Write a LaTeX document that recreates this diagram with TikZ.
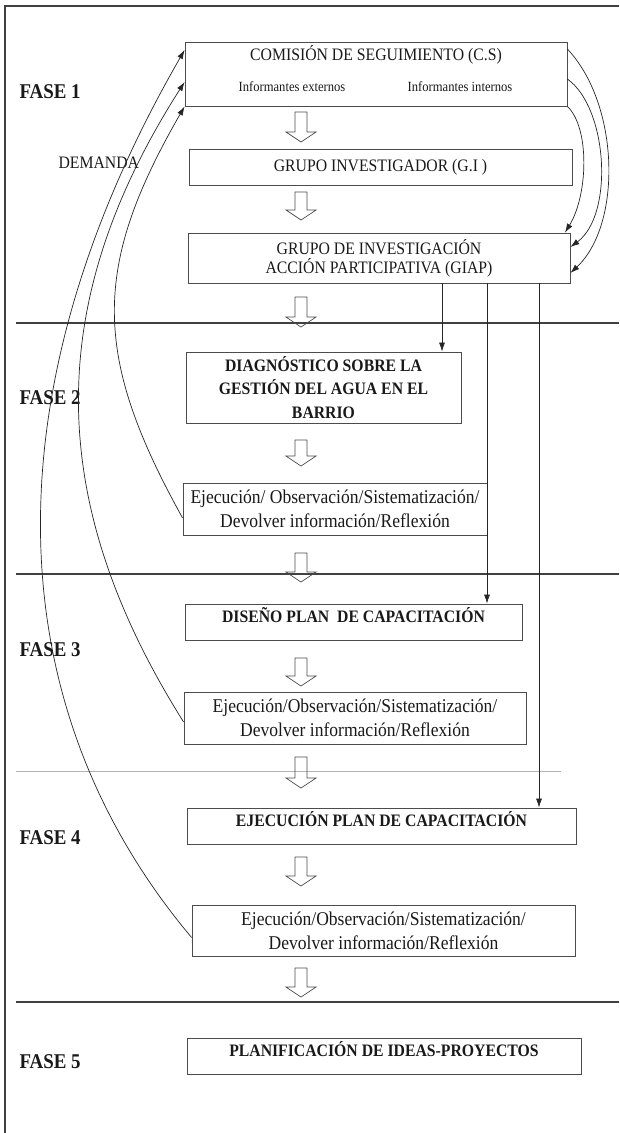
\documentclass[tikz,border=0pt]{standalone}
\usepackage{fontspec}
\setmainfont{Liberation Serif}[FakeStretch=0.9]
\usetikzlibrary{arrows.meta}

\begin{document}
\begin{tikzpicture}[x=1pt, y=-1pt,
  stage/.style={draw=black!70, line width=0.8pt, inner sep=0pt, align=center, text=black!90,
    font=\fontsize{17.5}{19}\selectfont},
  stagebold/.style={stage, font=\fontsize{17.5}{23.5}\selectfont\bfseries},
  loopbox/.style={stage, font=\fontsize{19.5}{24}\selectfont},
  topline/.style={text height=12pt, text depth=12pt},
  phase/.style={anchor=west, text=black!90, font=\fontsize{21}{24}\selectfont\bfseries},
  link/.style={draw=black!85, line width=0.7pt, -{Latex[length=9pt,width=6pt]}},
  hollow/.style={draw=black!70, line width=0.7pt},
  phaseline/.style={draw=black!75, line width=1.4pt}]
\useasboundingbox (0,0) rectangle (619,1133);

% frame and phase separators
\draw[black!75, line width=1.2pt] (5,1133) -- (5,6) -- (619,6);
\draw[phaseline] (16,323) -- (619,323);
\draw[phaseline, line width=1.8pt] (16,574) -- (619,574);
\draw[black!30, line width=1pt] (16,771) -- (561,771);
\draw[phaseline, line width=2.4pt] (16,1002) -- (619,1002);

% phases
\node[phase] (f1) at (16,92) {FASE 1};
\node[phase] (f2) at (16,398) {FASE 2};
\node[phase] (f3) at (16,650) {FASE 3};
\node[phase] (f4) at (16,838) {FASE 4};
\node[phase] (f5) at (16,1062) {FASE 5};
\node[anchor=west, text=black!90, font=\fontsize{17.5}{19}\selectfont] (demanda) at (55,163) {DEMANDA};

% boxes
\node[stage, minimum width=382pt, minimum height=64pt] (cs) at (376,74) {};
\node[text=black!90, font=\fontsize{17.5}{19}\selectfont] (cstitle) at (376,55) {COMISIÓN DE SEGUIMIENTO (C.S)};
\node[text=black!90, font=\fontsize{14}{16}\selectfont] (ext) at (292,87) {Informantes externos};
\node[text=black!90, font=\fontsize{14}{16}\selectfont] (int) at (460,87) {Informantes internos};
\node[stage, minimum width=383pt, minimum height=36pt] (gi) at (380.5,167) {GRUPO INVESTIGADOR (G.I )};
\node[stage, minimum width=382pt, minimum height=50pt] (giap) at (379,258)
  {GRUPO DE INVESTIGACIÓN\\ACCIÓN PARTICIPATIVA (GIAP)};
\node[stagebold, minimum width=275pt, minimum height=71pt] (diag) at (323.5,387.5)
  {DIAGNÓSTICO SOBRE LA\\GESTIÓN DEL AGUA EN EL\\BARRIO};
\node[loopbox, minimum width=304pt, minimum height=52pt] (ejec1) at (335,509)
  {Ejecución/ Observación/Sistematización/\\Devolver información/Reflexión};
\node[stagebold, topline, minimum width=337pt, minimum height=36pt] (diseno) at (353.5,622)
  {DISEÑO PLAN~~DE CAPACITACIÓN};
\node[loopbox, minimum width=342pt, minimum height=52pt] (ejec2) at (355,718)
  {Ejecución/Observación/Sistematización/\\Devolver información/Reflexión};
\node[stagebold, topline, minimum width=389pt, minimum height=36pt] (ejecplan) at (381.5,826)
  {EJECUCIÓN PLAN DE CAPACITACIÓN};
\node[loopbox, minimum width=383pt, minimum height=51pt] (ejec3) at (383.5,930.5)
  {Ejecución/Observación/Sistematización/\\Devolver información/Reflexión};
\node[stagebold, topline, minimum width=394pt, minimum height=36pt] (planif) at (384,1056)
  {PLANIFICACIÓN DE IDEAS-PROYECTOS};

% hollow flow arrows
\foreach \t/\b in {112/142, 192/220, 297/327, 440/466, 553/582, 658/686, 757/788, 857/886, 968/997}
  \draw[hollow] (295,\t) -- (307,\t) -- (307,\b-10) -- (316,\b-10) -- (301,\b)
    -- (286,\b-10) -- (295,\b-10) -- cycle;

% GIAP feeds the later stages
\draw[link] (442,0 |- giap.south) -- (442,0 |- diag.north);
\draw[link] (487,0 |- giap.south) -- (487,0 |- diseno.north);
\draw[link] (539,0 |- giap.south) -- (539,0 |- ejecplan.north);

% C.S to GIAP
\draw[link] (cs.east |- 0,49) .. controls (620,105) and (622,225) .. (giap.east |- 0,273);
\draw[link] (cs.east |- 0,79) .. controls (608,108) and (614,215) .. (giap.east |- 0,247);
\draw[link] (cs.south east) .. controls (590,128) and (588,195) .. (565,0 |- giap.north);

% feedback to C.S
\draw[link] ([yshift=-7pt]ejec3.west) .. controls (-8,700) and (-8,384) .. (cs.west |- 0,50);
\draw[link] ([yshift=-4pt]ejec2.west) .. controls (44,500) and (44,302) .. (cs.west |- 0,82);
\draw[link] ([yshift=-9pt]ejec1.west) .. controls (92,355) and (92,267) .. (cs.south west);
\end{tikzpicture}
\end{document}
